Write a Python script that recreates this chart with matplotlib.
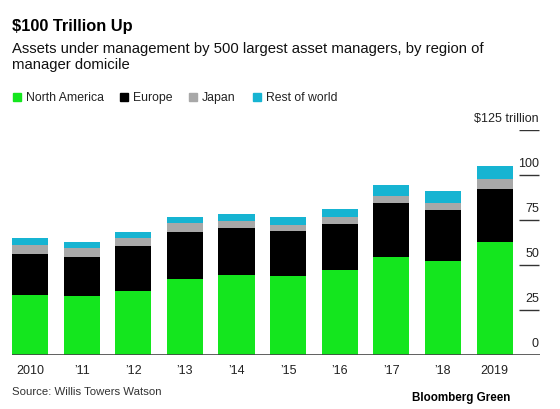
import matplotlib.pyplot as plt
import numpy as np

plt.rcParams['font.family'] = ['Liberation Sans', 'DejaVu Sans']

years = ["2010", "’11", "’12", "’13", "’14", "’15", "’16", "’17", "’18", "2019"]
north_america = [33.2, 32.6, 35.4, 41.9, 44.3, 43.7, 47.1, 54.3, 51.9, 62.4]
europe = [22.9, 21.7, 24.8, 26.3, 26.3, 25.0, 25.5, 29.8, 28.3, 29.8]
japan = [5.0, 5.0, 4.6, 4.8, 3.7, 3.5, 3.7, 4.1, 4.1, 5.6]
rest_of_world = [3.7, 3.5, 3.4, 3.3, 3.9, 4.5, 4.8, 5.9, 6.8, 6.9]

series = [("North America", north_america, "#14e61e"),
          ("Europe", europe, "#000000"),
          ("Japan", japan, "#a8a8a8"),
          ("Rest of world", rest_of_world, "#16b4d2")]

yticks = [0, 25, 50, 75, 100, 125]
ytick_labels = ["0", "25", "50", "75", "100", "$125 trillion"]

fig = plt.figure(figsize=(5.6, 4.1), dpi=100)
ax = fig.add_axes([12 / 560, 1 - 355.7 / 410, 528 / 560, 225 / 410])

x = np.arange(len(years))
bottom = np.zeros(len(years))
for name, vals, color in series:
    ax.bar(x, vals, width=0.7, bottom=bottom, color=color, linewidth=0)
    bottom += np.array(vals)

ax.set_xlim(-0.35, 9.88)
ax.set_ylim(0, 125)

# right-side value ticks
ax.hlines(yticks[1:], 9.47, 9.86, color="#333333", lw=1)
for v, lab in zip(yticks, ytick_labels):
    ax.text(9.86, v + 6.5, lab, ha="right", va="center", fontsize=9, color="#222222")

ax.axhline(0, color="#444444", lw=1.2)

for s in ax.spines.values():
    s.set_visible(False)
ax.set_yticks([])
ax.set_xticks(x)
ax.set_xticklabels(years, fontsize=9, color="#222222")
ax.tick_params(axis="x", length=0, pad=7)

fig.text(12 / 560, 1 - 26 / 410, "$100 Trillion Up", fontsize=11.8, fontweight="bold", va="center")
fig.text(12 / 560, 1 - 57 / 410,
         "Assets under management by 500 largest asset managers, by region of\nmanager domicile",
         fontsize=10.7, va="center", linespacing=1.25, color="#111111")

legend_x = [13, 120, 189, 253]
for (name, vals, color), lx in zip(series, legend_x):
    fig.patches.append(plt.Rectangle((lx / 560, 1 - 102 / 410), 8 / 560, 8 / 410,
                                     transform=fig.transFigure, color=color, figure=fig))
    fig.text((lx + 13) / 560, 1 - 98 / 410, name, fontsize=8.8, va="center", color="#222222")

fig.text(12 / 560, 1 - 392 / 410, "Source: Willis Towers Watson", fontsize=8.2, va="center", color="#333333")
fig.text(510 / 560, 1 - 398 / 410, "Bloomberg Green", fontsize=8.4, fontweight="bold", ha="right", va="center")

fig.savefig("out.png", dpi=100)
